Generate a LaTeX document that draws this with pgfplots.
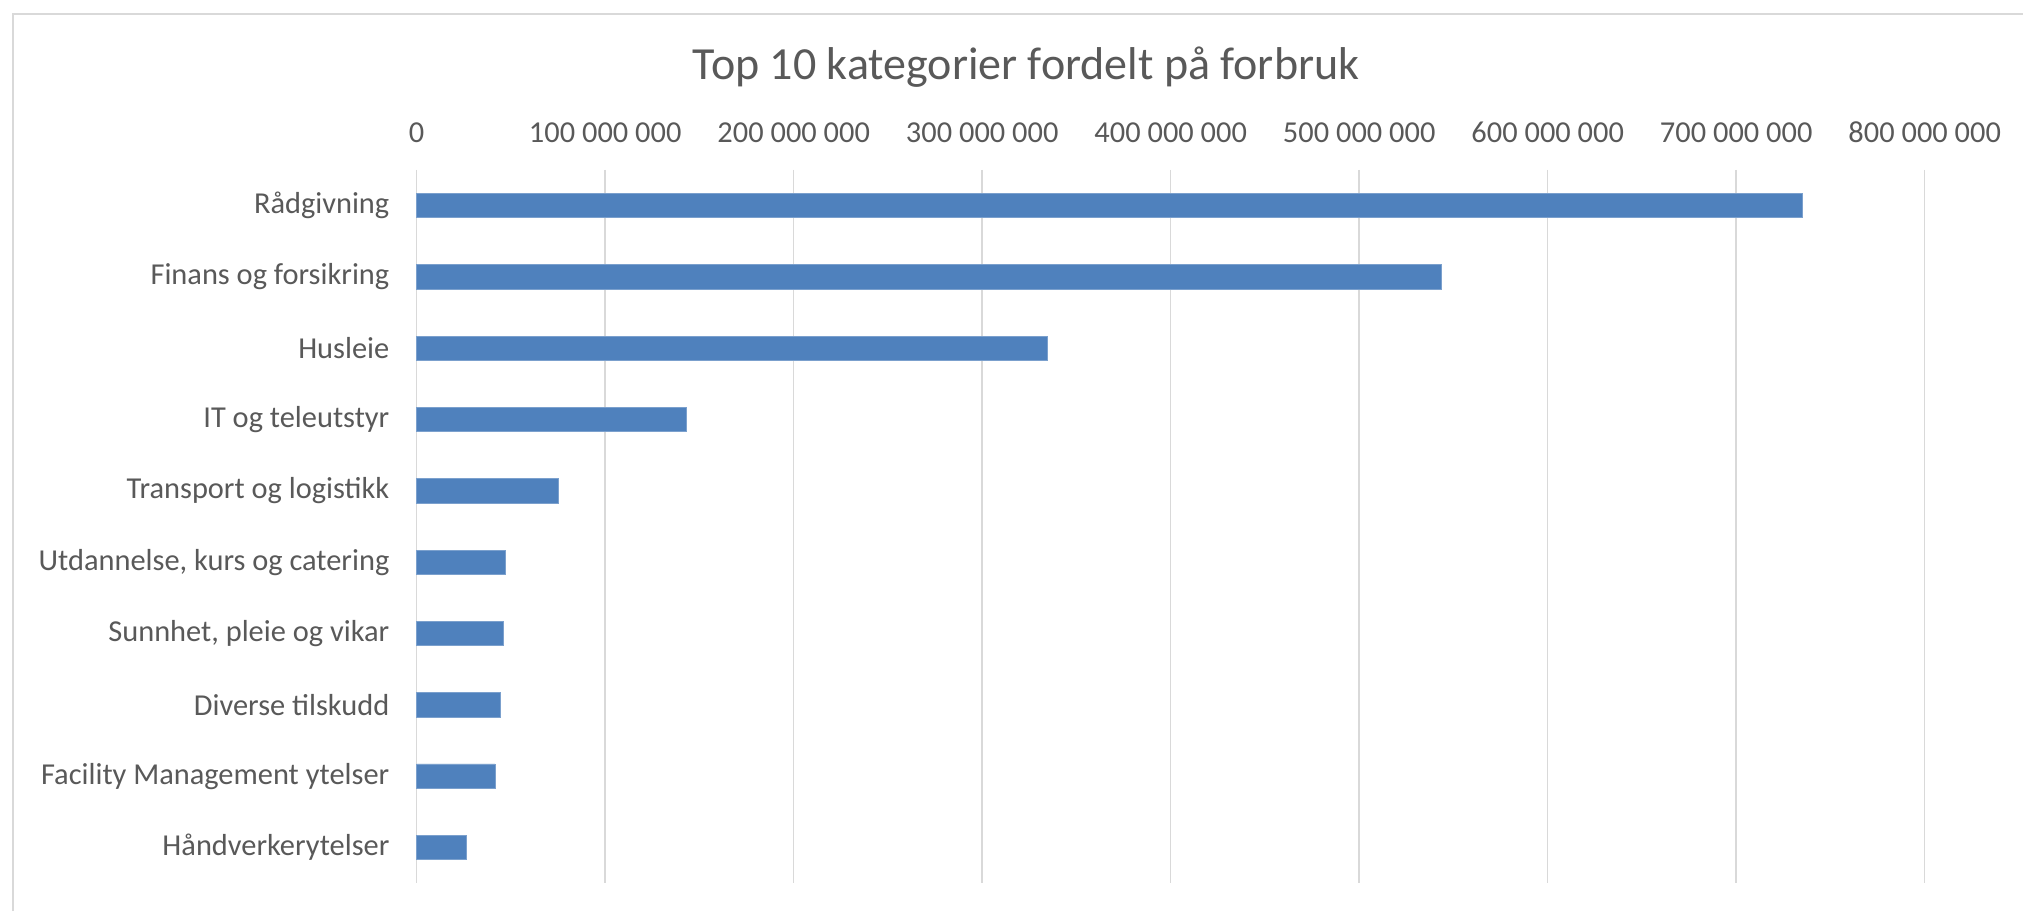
\documentclass[border=0pt]{standalone}
\usepackage{fontspec}
\setmainfont{Carlito}
\usepackage{pgfplots}
\pgfplotsset{compat=1.18}
\definecolor{barblue}{HTML}{4F81BD}
\definecolor{txt}{HTML}{595959}
\definecolor{gridc}{HTML}{D9D9D9}
\begin{document}
\begin{tikzpicture}
\useasboundingbox (0,0) rectangle (1011.5pt,455.5pt);
\fill[white] (0,0) rectangle (1011.5pt,455.5pt);
\draw[gridc, line width=1pt] (6.5pt,0) -- (6.5pt,448.5pt) -- (1011.5pt,448.5pt);
\node[txt, font=\fontsize{23}{27}\selectfont] at (513pt,422pt) {Top 10 kategorier fordelt på forbruk};
\begin{axis}[
  at={(208.35pt,14pt)}, anchor=south west,
  scale only axis, width=754pt, height=356.5pt,
  xbar, bar width=12.15pt,
  xmin=0, xmax=800000000,
  ymin=-0.5, ymax=9.5, y dir=reverse,
  ytick={0,1,2,3,4,5,6,7,8,9},
  yticklabels={Rådgivning, Finans og forsikring, Husleie, IT og teleutstyr, Transport og logistikk, {Utdannelse, kurs og catering}, {Sunnhet, pleie og vikar}, Diverse tilskudd, Facility Management ytelser, Håndverkerytelser},
  xtick={0,100000000,200000000,300000000,400000000,500000000,600000000,700000000,800000000},
  xticklabels={0, 100 000 000, 200 000 000, 300 000 000, 400 000 000, 500 000 000, 600 000 000, 700 000 000, 800 000 000},
  xticklabel pos=upper,
  scaled x ticks=false,
  xmajorgrids, major grid style={gridc, line width=0.75pt},
  axis line style={draw=none},
  major tick length=0pt,
  /pgf/number format/assume math mode=true,
  tick label style={txt, font=\fontsize{15.2}{18}\selectfont, inner sep=0pt},
  yticklabel style={anchor=east, xshift=-13.5pt},
  xticklabel style={anchor=base, yshift=13.7pt},
  clip=false,
]
\addplot[fill=barblue, draw=barblue!75!white, line width=0.4pt] coordinates {
  (735000000,0)
  (543500000,1)
  (334500000,2)
  (143000000,3)
  (75000000,4)
  (47000000,5)
  (46000000,6)
  (44500000,7)
  (41500000,8)
  (26500000,9)
};
\end{axis}
\end{tikzpicture}
\end{document}
